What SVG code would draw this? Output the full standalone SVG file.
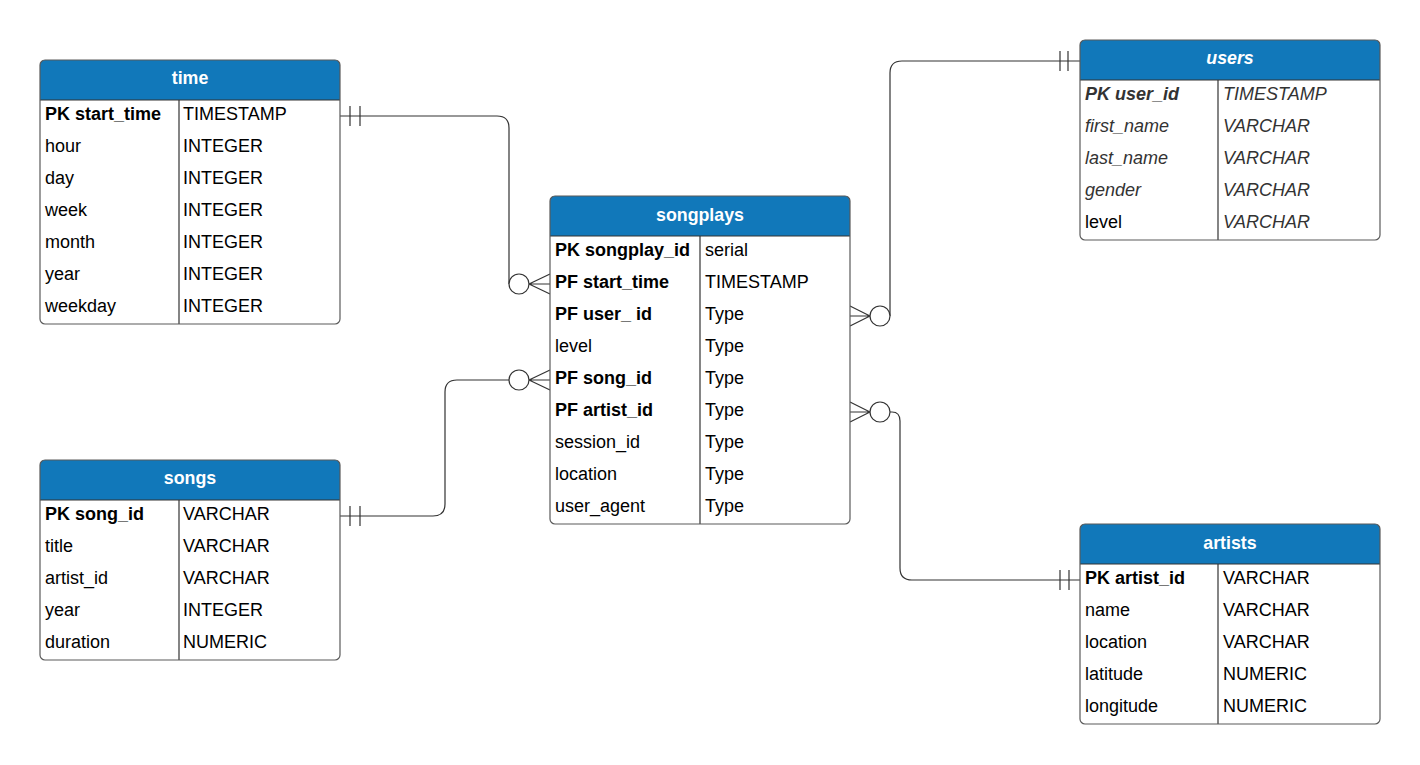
<svg xmlns="http://www.w3.org/2000/svg" width="1420" height="765" viewBox="0 0 1420 765">
<style>
.bg{fill:#ffffff}
.hdr{fill:#1178ba}
.body{fill:#ffffff}
.outline{fill:none;stroke:#5a5a5a;stroke-width:1.2}
.div{stroke:#333333;stroke-width:1.2}
.ht{font-family:"Liberation Sans",Arial,sans-serif;font-size:17.8px;font-weight:bold;fill:#ffffff;text-anchor:middle}
.t{font-family:"Liberation Sans",Arial,sans-serif;font-size:18px;fill:#000000}
.b{font-weight:bold}
.i{font-style:italic;fill:#333333}
.conn{fill:none;stroke:#333333;stroke-width:1.2}
.circ{fill:#ffffff;stroke:#333333;stroke-width:1.2}
</style>
<rect class="bg" x="0" y="0" width="1420" height="765"/>

<g id="connectors">
  <g id="c-time">
    <path class="conn" d="M340,116 H497 Q509,116 509,128 V284"/>
    <line class="conn" x1="350" y1="106" x2="350" y2="126"/>
    <line class="conn" x1="360" y1="106" x2="360" y2="126"/>
    <circle class="circ" cx="519" cy="284" r="10"/>
    <path class="conn" d="M529,284 L550,274 M529,284 L550,284 M529,284 L550,294"/>
  </g>
  <g id="c-songs">
    <path class="conn" d="M340,516 H433 Q445,516 445,504 V392 Q445,380 457,380 H509"/>
    <line class="conn" x1="350" y1="506" x2="350" y2="526"/>
    <line class="conn" x1="360" y1="506" x2="360" y2="526"/>
    <circle class="circ" cx="519" cy="380" r="10"/>
    <path class="conn" d="M529,380 L550,370 M529,380 L550,380 M529,380 L550,390"/>
  </g>
  <g id="c-users">
    <path class="conn" d="M1080,61 H902 Q890,61 890,73 V316"/>
    <line class="conn" x1="1060" y1="51" x2="1060" y2="71"/>
    <line class="conn" x1="1068" y1="51" x2="1068" y2="71"/>
    <circle class="circ" cx="880" cy="316" r="10"/>
    <path class="conn" d="M870,316 L850,306 M870,316 L850,316 M870,316 L850,326"/>
  </g>
  <g id="c-artists">
    <path class="conn" d="M890,412 H892 Q900,412 900,421 V568 Q900,580 912,580 H1080"/>
    <line class="conn" x1="1060" y1="570" x2="1060" y2="590"/>
    <line class="conn" x1="1069" y1="570" x2="1069" y2="590"/>
    <circle class="circ" cx="880" cy="412" r="10"/>
    <path class="conn" d="M870,412 L850,402 M870,412 L850,412 M870,412 L850,422"/>
  </g>
</g>

<g id="time">
  <rect class="body" x="40" y="60" width="300" height="264" rx="5"/>
  <path class="hdr" d="M40,100 V65 Q40,60 45,60 H335 Q340,60 340,65 V100 Z"/>
  <line class="div" x1="179" y1="100" x2="179" y2="324"/>
  <line class="div" x1="40" y1="100" x2="340" y2="100"/>
  <rect class="outline" x="40" y="60" width="300" height="264" rx="5"/>
  <text class="ht" x="190" y="83.5">time</text>
  <text class="t b" x="45" y="119.5">PK start_time</text><text class="t" x="183" y="119.5">TIMESTAMP</text>
  <text class="t" x="45" y="151.5">hour</text><text class="t" x="183" y="151.5">INTEGER</text>
  <text class="t" x="45" y="183.5">day</text><text class="t" x="183" y="183.5">INTEGER</text>
  <text class="t" x="45" y="215.5">week</text><text class="t" x="183" y="215.5">INTEGER</text>
  <text class="t" x="45" y="247.5">month</text><text class="t" x="183" y="247.5">INTEGER</text>
  <text class="t" x="45" y="279.5">year</text><text class="t" x="183" y="279.5">INTEGER</text>
  <text class="t" x="45" y="311.5">weekday</text><text class="t" x="183" y="311.5">INTEGER</text>
</g>

<g id="songs">
  <rect class="body" x="40" y="460" width="300" height="200" rx="5"/>
  <path class="hdr" d="M40,500 V465 Q40,460 45,460 H335 Q340,460 340,465 V500 Z"/>
  <line class="div" x1="179" y1="500" x2="179" y2="660"/>
  <line class="div" x1="40" y1="500" x2="340" y2="500"/>
  <rect class="outline" x="40" y="460" width="300" height="200" rx="5"/>
  <text class="ht" x="190" y="483.5">songs</text>
  <text class="t b" x="45" y="519.5">PK song_id</text><text class="t" x="183" y="519.5">VARCHAR</text>
  <text class="t" x="45" y="551.5">title</text><text class="t" x="183" y="551.5">VARCHAR</text>
  <text class="t" x="45" y="583.5">artist_id</text><text class="t" x="183" y="583.5">VARCHAR</text>
  <text class="t" x="45" y="615.5">year</text><text class="t" x="183" y="615.5">INTEGER</text>
  <text class="t" x="45" y="647.5">duration</text><text class="t" x="183" y="647.5">NUMERIC</text>
</g>

<g id="songplays">
  <rect class="body" x="550" y="196" width="300" height="328" rx="5"/>
  <path class="hdr" d="M550,236 V201 Q550,196 555,196 H845 Q850,196 850,201 V236 Z"/>
  <line class="div" x1="700" y1="236" x2="700" y2="524"/>
  <line class="div" x1="550" y1="236" x2="850" y2="236"/>
  <rect class="outline" x="550" y="196" width="300" height="328" rx="5"/>
  <text class="ht" x="700" y="220.5">songplays</text>
  <text class="t b" x="555" y="256">PK songplay_id</text><text class="t" x="705" y="256">serial</text>
  <text class="t b" x="555" y="288">PF start_time</text><text class="t" x="705" y="288">TIMESTAMP</text>
  <text class="t b" x="555" y="320">PF user_ id</text><text class="t" x="705" y="320">Type</text>
  <text class="t" x="555" y="352">level</text><text class="t" x="705" y="352">Type</text>
  <text class="t b" x="555" y="384">PF song_id</text><text class="t" x="705" y="384">Type</text>
  <text class="t b" x="555" y="416">PF artist_id</text><text class="t" x="705" y="416">Type</text>
  <text class="t" x="555" y="448">session_id</text><text class="t" x="705" y="448">Type</text>
  <text class="t" x="555" y="480">location</text><text class="t" x="705" y="480">Type</text>
  <text class="t" x="555" y="512">user_agent</text><text class="t" x="705" y="512">Type</text>
</g>

<g id="users">
  <rect class="body" x="1080" y="40" width="300" height="200" rx="5"/>
  <path class="hdr" d="M1080,80 V45 Q1080,40 1085,40 H1375 Q1380,40 1380,45 V80 Z"/>
  <line class="div" x1="1218" y1="80" x2="1218" y2="240"/>
  <line class="div" x1="1080" y1="80" x2="1380" y2="80"/>
  <rect class="outline" x="1080" y="40" width="300" height="200" rx="5"/>
  <text class="ht" x="1230" y="63.5" font-style="italic">users</text>
  <text class="t b i" x="1085" y="99.5">PK user_id</text><text class="t i" x="1223" y="99.5">TIMESTAMP</text>
  <text class="t i" x="1085" y="131.5">first_name</text><text class="t i" x="1223" y="131.5">VARCHAR</text>
  <text class="t i" x="1085" y="163.5">last_name</text><text class="t i" x="1223" y="163.5">VARCHAR</text>
  <text class="t i" x="1085" y="195.5">gender</text><text class="t i" x="1223" y="195.5">VARCHAR</text>
  <text class="t" x="1085" y="227.5">level</text><text class="t i" x="1223" y="227.5">VARCHAR</text>
</g>

<g id="artists">
  <rect class="body" x="1080" y="524" width="300" height="200" rx="5"/>
  <path class="hdr" d="M1080,564 V529 Q1080,524 1085,524 H1375 Q1380,524 1380,529 V564 Z"/>
  <line class="div" x1="1218" y1="564" x2="1218" y2="724"/>
  <line class="div" x1="1080" y1="564" x2="1380" y2="564"/>
  <rect class="outline" x="1080" y="524" width="300" height="200" rx="5"/>
  <text class="ht" x="1230" y="548.5">artists</text>
  <text class="t b" x="1085" y="584">PK artist_id</text><text class="t" x="1223" y="584">VARCHAR</text>
  <text class="t" x="1085" y="616">name</text><text class="t" x="1223" y="616">VARCHAR</text>
  <text class="t" x="1085" y="648">location</text><text class="t" x="1223" y="648">VARCHAR</text>
  <text class="t" x="1085" y="680">latitude</text><text class="t" x="1223" y="680">NUMERIC</text>
  <text class="t" x="1085" y="712">longitude</text><text class="t" x="1223" y="712">NUMERIC</text>
</g>
</svg>
